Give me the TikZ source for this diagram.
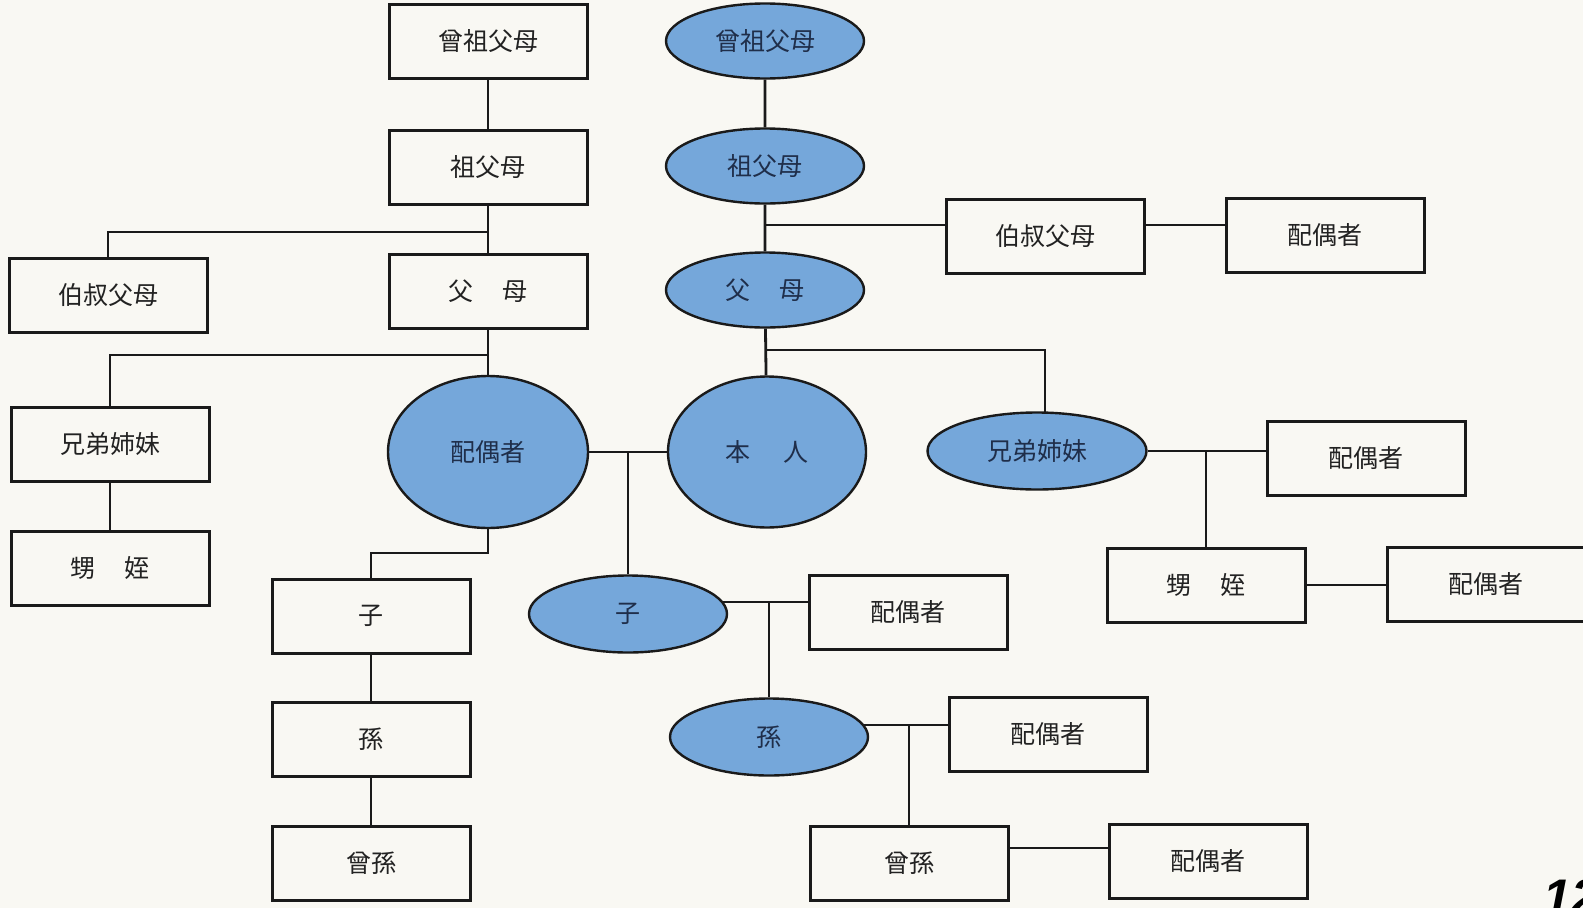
\documentclass[tikz,border=0pt]{standalone}
\usepackage{fontspec}
\newfontfamily\cjk{Noto Sans CJK JP}
\newfontfamily\pgnum{Liberation Sans}
\usetikzlibrary{shapes.geometric}
\pgfdeclarelayer{background}
\pgfsetlayers{background,main}
\definecolor{bg}{HTML}{F9F8F3}
\definecolor{ellfill}{HTML}{75A7DA}
\definecolor{ink}{HTML}{1A1A1A}
\definecolor{btext}{HTML}{222222}
\definecolor{etext}{HTML}{1F2E4A}
\begin{document}
\begin{tikzpicture}[x=1pt,y=-1pt,
  rbox/.style={draw=ink,line width=3pt,fill=bg,minimum width=198pt,minimum height=74pt,inner sep=0pt,text=btext,font=\cjk\fontsize{25}{30}\selectfont},
  oval/.style={ellipse,draw=ink,line width=2.4pt,fill=ellfill,minimum width=198pt,minimum height=75pt,inner sep=0pt,text=etext,font=\cjk\fontsize{25}{30}\selectfont},
  link/.style={draw=ink,line width=2.8pt}]
\useasboundingbox (0,0) rectangle (1583,908);
% left family (boxes)
\node[rbox] (ggpL) at (488,41) {曾祖父母};
\node[rbox] (gpL) at (488,167) {祖父母};
\node[rbox] (parL) at (488,291) {父\hspace{1.2em}母};
\node[rbox] (ucL) at (108,295) {伯叔父母};
\node[rbox] (sibL) at (110,444) {兄弟姉妹};
\node[rbox] (nnL) at (110,568) {甥\hspace{1.2em}姪};
\node[oval,minimum width=200pt,minimum height=152pt] (spE) at (488,452) {配偶者};
\node[rbox] (childL) at (371,616) {子};
\node[rbox] (gcL) at (371,739) {孫};
\node[rbox] (ggcL) at (371,863) {曾孫};
% own line (ovals)
\node[oval] (ggpE) at (765,41) {曾祖父母};
\node[oval] (gpE) at (765,166) {祖父母};
\node[oval] (parE) at (765,290) {父\hspace{1.2em}母};
\node[oval,minimum height=151pt] (selfE) at (767,452) {本\hspace{1.3em}人};
\node[rbox] (ucR) at (1045,236) {伯叔父母};
\node[rbox] (ucSp) at (1325,235) {配偶者};
\node[oval,minimum width=219pt,minimum height=77pt] (sibE) at (1037,451) {兄弟姉妹};
\node[rbox] (sibSp) at (1366,458) {配偶者};
\node[rbox] (nnR) at (1206,585) {甥\hspace{1.2em}姪};
\node[rbox] (nnSp) at (1486,584) {配偶者};
\node[oval,minimum height=77pt] (childE) at (628,614) {子};
\node[rbox] (childSp) at (908,612) {配偶者};
\node[oval,minimum height=77pt] (gcE) at (769,737) {孫};
\node[rbox] (gcSp) at (1048,734) {配偶者};
\node[rbox] (ggcR) at (909,863) {曾孫};
\node[rbox] (ggcSp) at (1208,861) {配偶者};
\node[anchor=base west,inner sep=0pt,font=\pgnum\bfseries\itshape\fontsize{50}{60}\selectfont] (pg) at (1543,914) {12};
\begin{pgfonlayer}{background}
\fill[bg] (0,0) rectangle (1583,908);
% left
\draw[link] (ggpL) -- (gpL) -- (parL) -- (spE);
\draw[link] (gpL |- 0,232) -| (ucL);
\draw[link] (parL |- 0,355) -| (sibL);
\draw[link] (sibL) -- (nnL);
\draw[link] (spE) -- (spE |- 0,553) -| (childL);
\draw[link] (childL) -- (gcL) -- (ggcL);
% right
\draw[link] (ggpE) -- (gpE) -- (parE) -- (selfE);
\draw[link] (gpE |- 0,225) -- (ucSp |- 0,225);
\draw[link] (parE |- 0,350) -| (sibE -| 1045,0);
\draw[link] (sibE) -- (sibE -| sibSp);
\draw[link] (nnR |- sibE) -- (nnR);
\draw[link] (nnR) -- (nnR -| nnSp);
% bottom
\draw[link] (spE) -- (selfE);
\draw[link] (childE |- spE) -- (childE);
\draw[link] (childE |- 0,602) -- (childSp |- 0,602);
\draw[link] (gcE |- 0,602) -- (gcE);
\draw[link] (gcE |- 0,725) -- (gcSp |- 0,725);
\draw[link] (ggcR |- 0,725) -- (ggcR);
\draw[link] (ggcR |- 0,848) -- (ggcSp |- 0,848);
\end{pgfonlayer}
\end{tikzpicture}
\end{document}
